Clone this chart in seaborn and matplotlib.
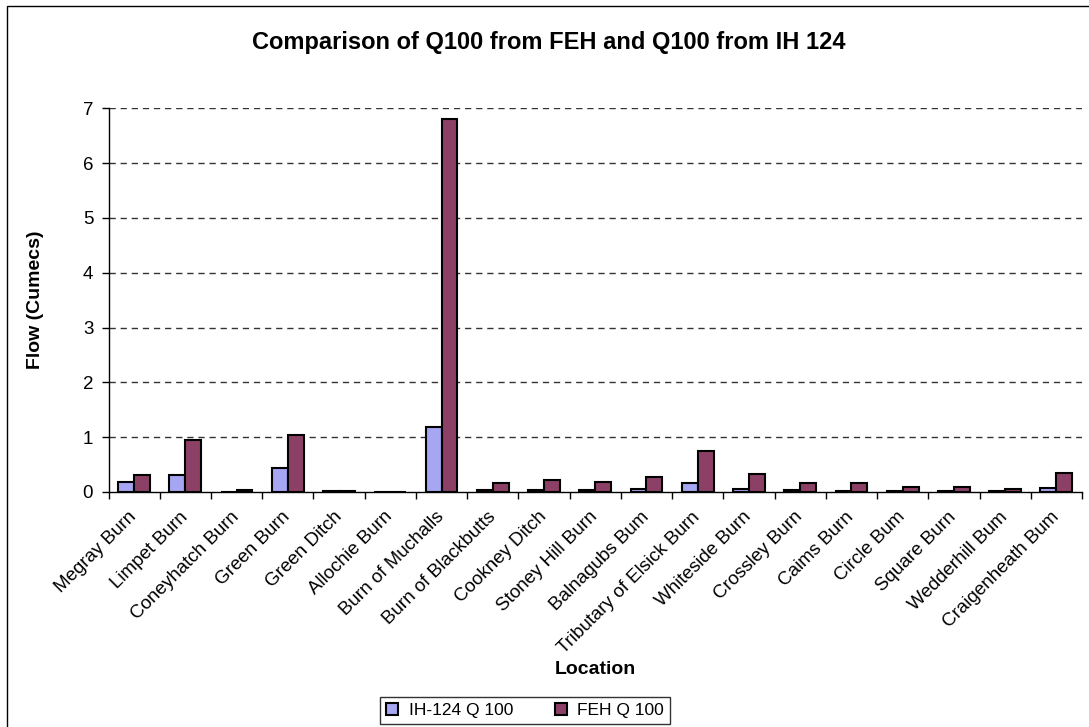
import numpy as np
import pandas as pd
import matplotlib
matplotlib.use("Agg")
import matplotlib.pyplot as plt
from matplotlib.patches import Rectangle
import seaborn as sns

# Catchment locations along the x axis
locations = [
    "Megray Burn", "Limpet Burn", "Coneyhatch Burn", "Green Burn", "Green Ditch",
    "Allochie Burn", "Burn of Muchalls", "Burn of Blackbutts", "Cookney Ditch",
    "Stoney Hill Burn", "Balnagubs Bum", "Tributary of Elsick Burn", "Whiteside Burn",
    "Crossley Burn", "Caims Burn", "Circle Bum", "Square Burn", "Wedderhill Bum",
    "Craigenheath Bum",
]

# 100-year flows (cumecs)
ih124_q100 = [0.19, 0.31, 0.0, 0.43, 0.02, 0.0, 1.19, 0.03, 0.03, 0.03,
              0.055, 0.16, 0.055, 0.03, 0.02, 0.02, 0.02, 0.02, 0.07]
feh_q100 = [0.31, 0.94, 0.03, 1.04, 0.02, 0.0, 6.80, 0.16, 0.22, 0.19,
            0.28, 0.75, 0.32, 0.16, 0.16, 0.10, 0.10, 0.06, 0.34]

series_names = ["IH-124 Q 100", "FEH Q 100"]
series_colors = ["#9999FF", "#993366"]
y_ticks = [0, 1, 2, 3, 4, 5, 6, 7]

df = pd.DataFrame({
    "Location": locations * 2,
    "Flow": ih124_q100 + feh_q100,
    "Series": [series_names[0]] * len(locations) + [series_names[1]] * len(locations),
})

sns.set_style("white")
plt.rcParams["font.family"] = ["Liberation Sans", "DejaVu Sans"]
plt.rcParams["text.color"] = "black"
plt.rcParams["axes.labelcolor"] = "black"
plt.rcParams["xtick.color"] = "black"
plt.rcParams["ytick.color"] = "black"

W, H = 1089, 727
fig = plt.figure(figsize=(W / 100, H / 100), dpi=100)
ax = fig.add_axes([108.5 / W, 1 - 492 / H, (1082 - 108.5) / W, (492 - 108.3) / H])

sns.barplot(
    data=df, x="Location", y="Flow", hue="Series", order=locations,
    hue_order=series_names, palette=series_colors, width=0.62,
    edgecolor="black", linewidth=1.5, ax=ax, legend=True,
)

ax.set_ylim(0, 7)
ax.set_xlim(-0.5, len(locations) - 0.5)
ax.set_yticks(y_ticks)
ax.set_yticklabels([str(t) for t in y_ticks], fontsize=13.5)

# Dashed horizontal gridlines
for t in y_ticks[1:]:
    ax.axhline(t, color="#333333", lw=1.0, ls=(0, (4.5, 3.5)), zorder=0)

# Category labels centred, ticks at category boundaries
ax.set_xticks(range(len(locations)))
ax.set_xticklabels(locations, rotation=45, ha="right", va="center",
                   rotation_mode="anchor", fontsize=13.5)
ax.tick_params(axis="x", which="major", length=0, pad=16)
ax.set_xticks(np.arange(-0.5, len(locations)), minor=True)
ax.tick_params(axis="x", which="minor", length=5, width=1, color="black",
               direction="out", bottom=True)
ax.tick_params(axis="y", length=5, width=1, color="black", direction="out",
               left=True, pad=6)

for side in ["top", "right"]:
    ax.spines[side].set_visible(False)
for side in ["left", "bottom"]:
    ax.spines[side].set_color("black")
    ax.spines[side].set_linewidth(1.0)

ax.set_xlabel("Location", fontsize=14, fontweight="bold")
ax.set_ylabel("Flow (Cumecs)", fontsize=14, fontweight="bold")
ax.xaxis.set_label_coords((595 - 108.5) / (1082 - 108.5), -(661 - 492) / (492 - 108.3))
ax.yaxis.set_label_coords(-(108.5 - 44) / (1082 - 108.5), (492 - 300) / (492 - 108.3))

fig.text(549 / W, 1 - 43 / H, "Comparison of Q100 from FEH and Q100 from IH 124",
         ha="center", va="center", fontsize=17, fontweight="bold")

handles, labels = ax.get_legend_handles_labels()
ax.legend_.remove()
leg = fig.legend(
    handles, labels, loc="upper center", bbox_to_anchor=(525 / W, 1 - 697 / H),
    bbox_transform=fig.transFigure, ncol=2, fontsize=12.5, frameon=True,
    fancybox=False, edgecolor="black", handlelength=0.7, handleheight=0.7,
    handletextpad=0.6, columnspacing=2.4, borderpad=0.35, borderaxespad=0,
)
leg.get_frame().set_linewidth(1.0)

# Chart area border
fig.patches.append(Rectangle((7 / W, -0.2), 1.2, 1 - 6 / H + 0.2, transform=fig.transFigure,
                             fill=False, edgecolor="black", lw=1.0, clip_on=False))

fig.savefig("out.png", dpi=100)
